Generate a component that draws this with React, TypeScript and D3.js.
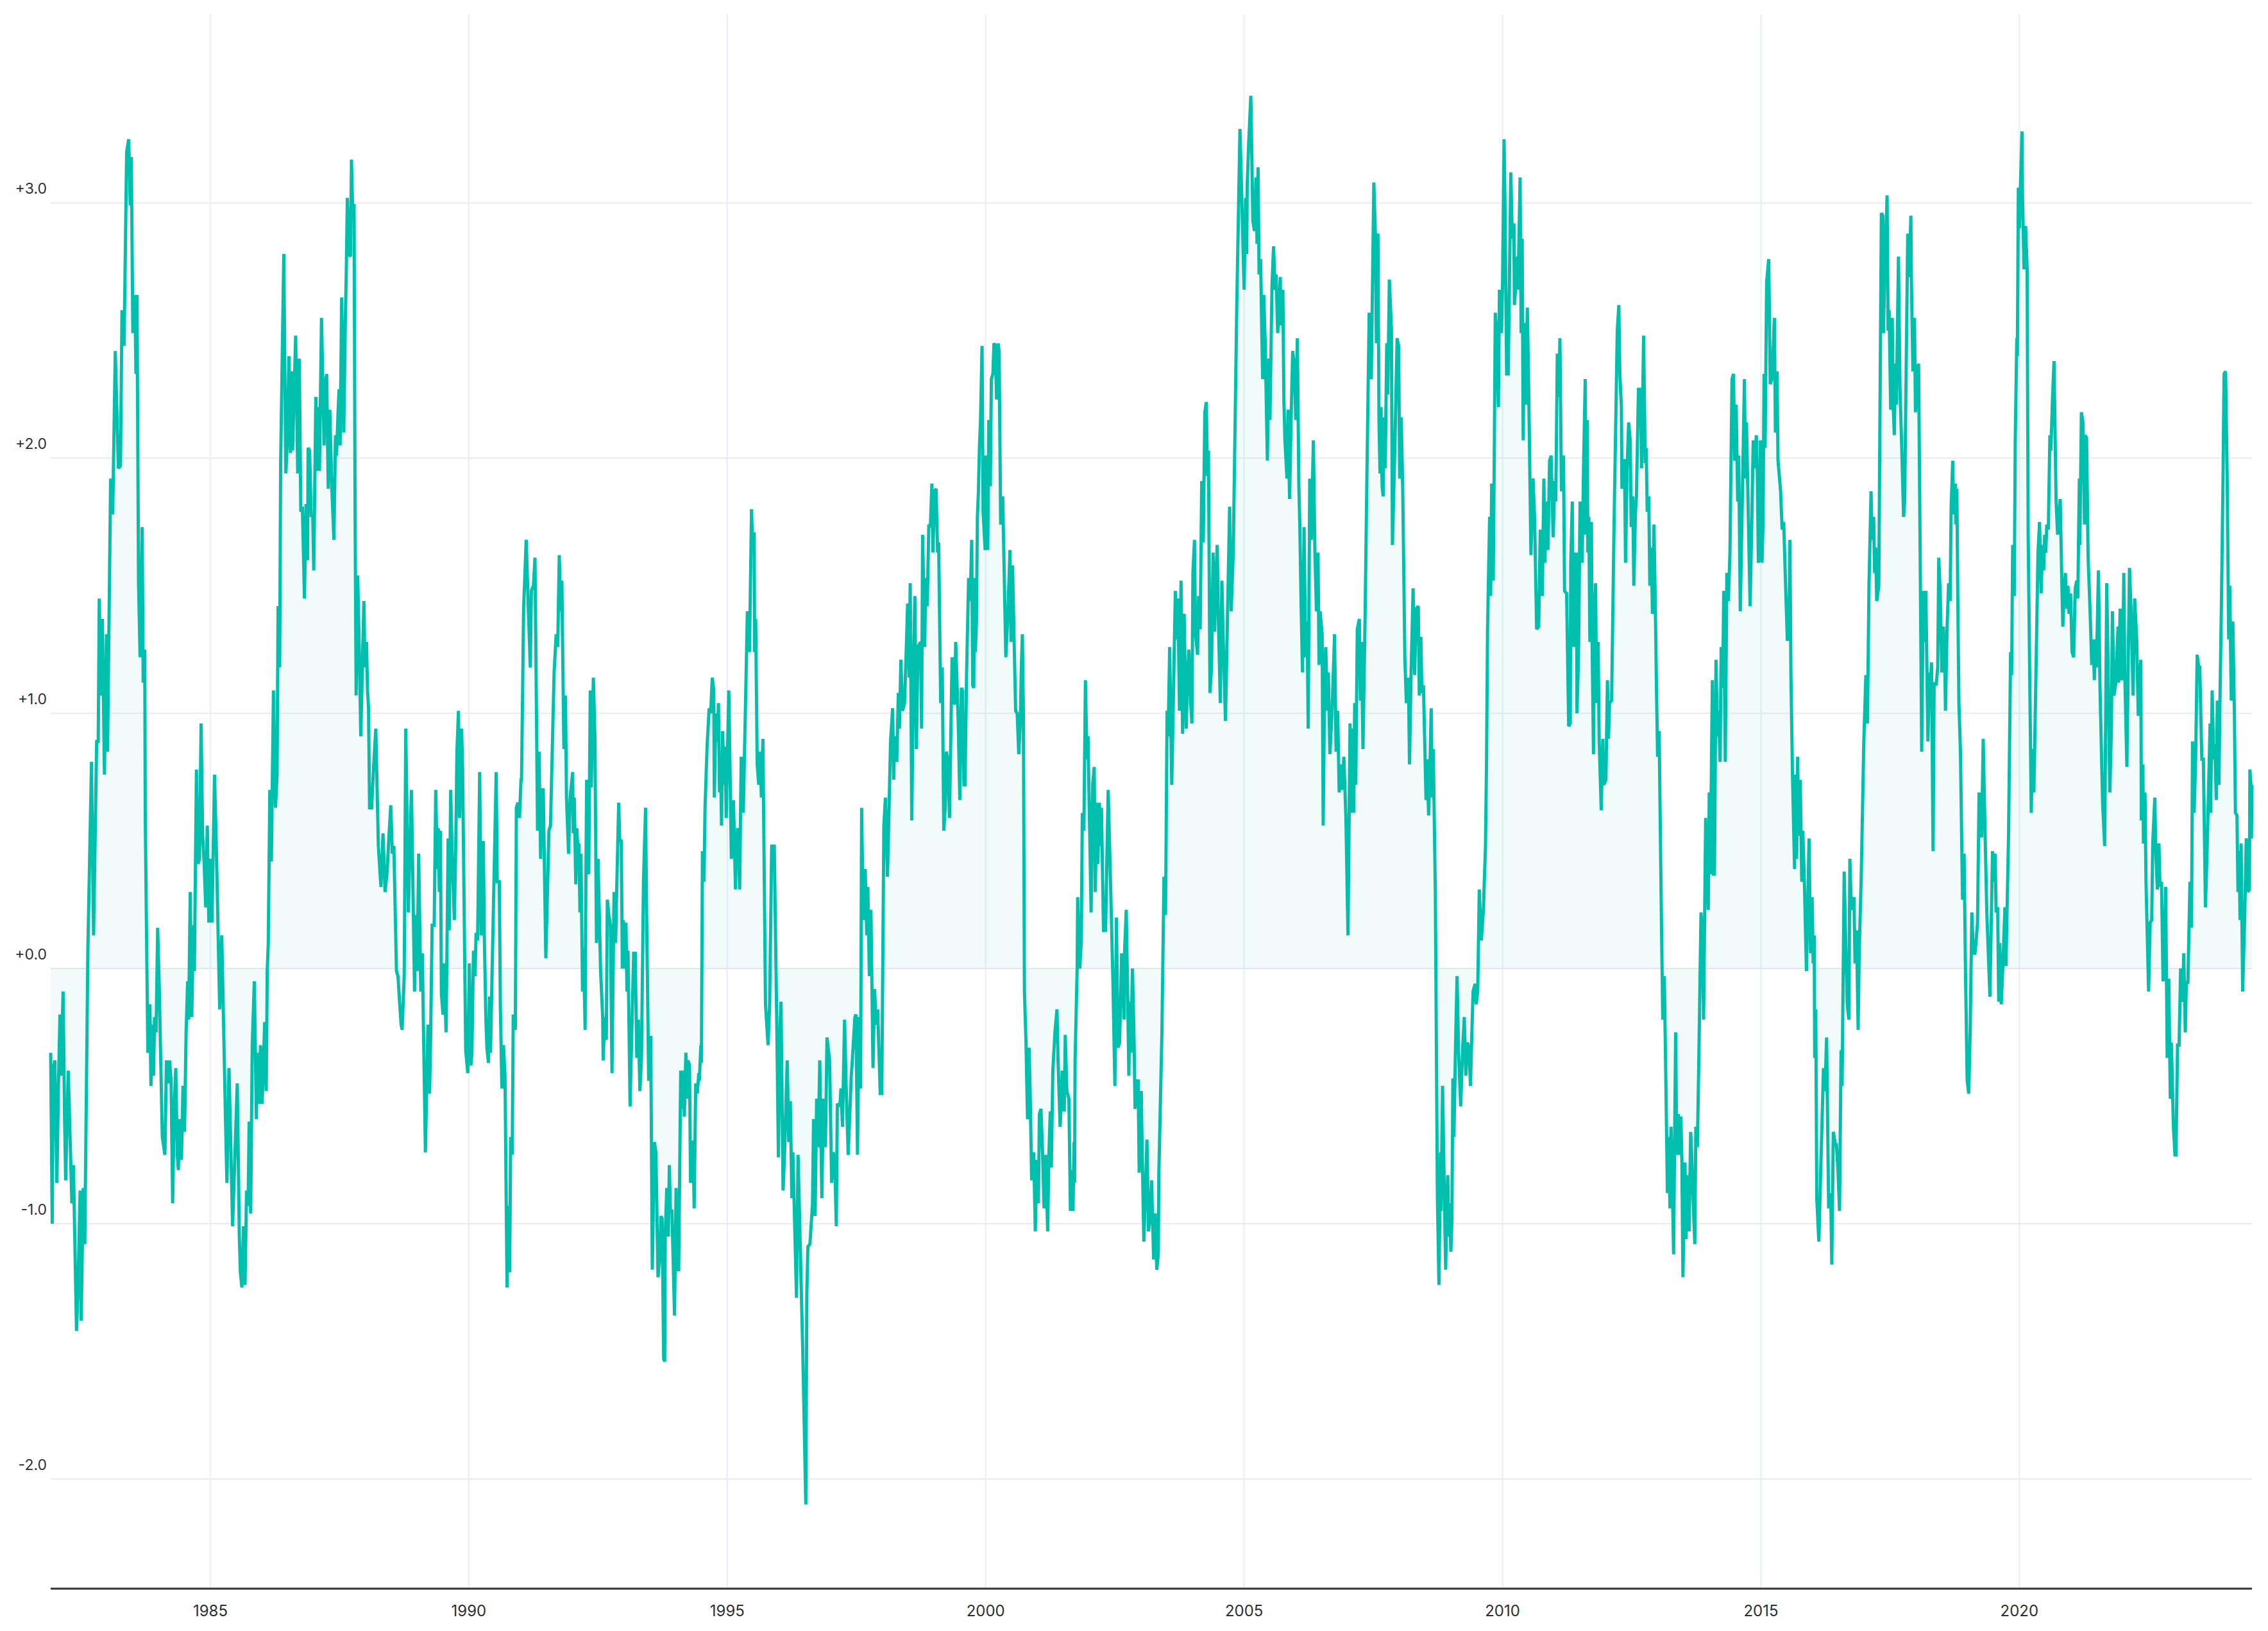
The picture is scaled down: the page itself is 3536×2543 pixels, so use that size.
import { useEffect, useRef } from "react";
import * as d3 from "d3";

type Reading = [number, number]; // [decimal year, index value]

// Readings taken off the chart, one block per stretch of years
const readings1982to1986: Reading[] = [
  [1981.91, -0.33], [1981.94, -1.0], [1981.96, -0.4], [1981.99, -0.36], [1982.03, -0.84], [1982.06, -0.46],
  [1982.09, -0.18], [1982.11, -0.42], [1982.15, -0.09], [1982.18, -0.6], [1982.2, -0.83], [1982.25, -0.4],
  [1982.32, -0.92], [1982.35, -0.77], [1982.41, -1.42], [1982.44, -1.25], [1982.48, -0.87], [1982.5, -1.38],
  [1982.54, -0.86], [1982.57, -1.08], [1982.63, 0.08], [1982.7, 0.81], [1982.74, 0.13], [1982.8, 0.89],
  [1982.83, 0.89], [1982.85, 1.45], [1982.88, 1.07], [1982.91, 1.37], [1982.95, 0.76], [1982.99, 1.31],
  [1983.01, 0.85], [1983.07, 1.92], [1983.11, 1.78], [1983.16, 2.42], [1983.22, 1.96], [1983.26, 1.97],
  [1983.29, 2.58], [1983.33, 2.44], [1983.38, 3.2], [1983.42, 3.25], [1983.45, 2.99], [1983.47, 3.18],
  [1983.5, 2.49], [1983.54, 2.64], [1983.56, 2.33], [1983.58, 2.64], [1983.61, 1.51], [1983.64, 1.22],
  [1983.68, 1.73], [1983.7, 1.12], [1983.73, 1.25], [1983.74, 0.59], [1983.79, -0.33], [1983.83, -0.14],
  [1983.85, -0.46], [1983.88, -0.22], [1983.9, -0.42], [1983.92, -0.19], [1983.95, -0.25], [1983.98, 0.16],
  [1984.01, -0.07], [1984.07, -0.66], [1984.12, -0.73], [1984.15, -0.36], [1984.18, -0.45], [1984.21, -0.36],
  [1984.24, -0.44], [1984.27, -0.92], [1984.3, -0.55], [1984.33, -0.39], [1984.36, -0.73], [1984.38, -0.79],
  [1984.41, -0.59], [1984.44, -0.75], [1984.47, -0.46], [1984.5, -0.64], [1984.53, -0.25], [1984.56, -0.05],
  [1984.58, -0.2], [1984.61, 0.3], [1984.64, -0.19], [1984.67, 0.17], [1984.69, -0.01], [1984.73, 0.78],
  [1984.76, 0.41], [1984.79, 0.43], [1984.82, 0.96], [1984.85, 0.52], [1984.88, 0.41], [1984.91, 0.24],
  [1984.94, 0.56], [1984.97, 0.18], [1985.01, 0.43], [1985.03, 0.18], [1985.08, 0.76], [1985.11, 0.52],
  [1985.13, 0.33], [1985.18, -0.16], [1985.22, 0.13], [1985.29, -0.57], [1985.32, -0.84], [1985.36, -0.39],
  [1985.43, -1.01], [1985.52, -0.45], [1985.56, -1.05], [1985.58, -1.19], [1985.61, -1.25], [1985.64, -1.01],
  [1985.67, -1.24], [1985.7, -0.87], [1985.73, -0.93], [1985.75, -0.6], [1985.78, -0.96], [1985.81, -0.3],
  [1985.85, -0.05], [1985.89, -0.59], [1985.91, -0.33], [1985.94, -0.53], [1985.97, -0.3], [1986.0, -0.53],
  [1986.02, -0.42], [1986.05, -0.21], [1986.08, -0.48], [1986.1, -0.01], [1986.12, 0.1],
];

const readings1986to1990: Reading[] = [
  [1986.15, 0.7], [1986.18, 0.42], [1986.22, 1.09], [1986.26, 0.63], [1986.29, 0.76], [1986.31, 1.42],
  [1986.34, 1.18], [1986.36, 1.99], [1986.42, 2.8], [1986.46, 1.94], [1986.49, 2.07], [1986.52, 2.4],
  [1986.55, 2.02], [1986.57, 2.34], [1986.59, 2.03], [1986.65, 2.48], [1986.69, 1.94], [1986.72, 2.39],
  [1986.75, 1.79], [1986.78, 1.81], [1986.82, 1.45], [1986.85, 1.82], [1986.88, 1.6], [1986.89, 2.04],
  [1986.92, 2.03], [1986.95, 1.77], [1986.98, 1.78], [1987.0, 1.56], [1987.04, 2.24], [1987.07, 1.95],
  [1987.09, 2.2], [1987.11, 1.95], [1987.15, 2.55], [1987.2, 2.05], [1987.22, 2.29], [1987.25, 2.33],
  [1987.28, 1.88], [1987.31, 2.19], [1987.35, 1.88], [1987.39, 1.68], [1987.42, 2.09], [1987.44, 2.01],
  [1987.47, 2.18], [1987.49, 2.27], [1987.51, 2.05], [1987.54, 2.63], [1987.58, 2.1], [1987.61, 2.53],
  [1987.63, 2.74], [1987.65, 3.02], [1987.68, 2.8], [1987.71, 2.79], [1987.73, 3.17], [1987.75, 2.99],
  [1987.78, 2.99], [1987.8, 1.77], [1987.82, 1.07], [1987.85, 1.54], [1987.88, 1.26], [1987.91, 0.91],
  [1987.94, 1.18], [1987.97, 1.44], [1987.99, 1.18], [1988.02, 1.28], [1988.04, 1.09], [1988.06, 1.02],
  [1988.08, 0.63], [1988.12, 0.63], [1988.15, 0.76], [1988.2, 0.94], [1988.25, 0.48], [1988.3, 0.32],
  [1988.34, 0.53], [1988.38, 0.3], [1988.42, 0.38], [1988.45, 0.5], [1988.49, 0.64], [1988.52, 0.45],
  [1988.55, 0.48], [1988.6, -0.01], [1988.63, -0.03], [1988.66, -0.13], [1988.69, -0.22], [1988.71, -0.24],
  [1988.75, -0.03], [1988.78, 0.94], [1988.83, 0.22], [1988.85, 0.39], [1988.89, 0.7], [1988.95, -0.09],
  [1988.97, 0.21], [1989.0, -0.01], [1989.03, 0.45], [1989.07, -0.09], [1989.1, 0.06], [1989.16, -0.72],
  [1989.21, -0.22], [1989.24, -0.49], [1989.26, -0.29], [1989.29, 0.17], [1989.33, 0.17], [1989.36, 0.7],
  [1989.39, 0.39], [1989.41, 0.55], [1989.43, 0.3], [1989.45, 0.54], [1989.47, -0.1], [1989.5, -0.18],
  [1989.52, 0.02], [1989.56, -0.25], [1989.6, 0.51], [1989.62, 0.15], [1989.65, 0.7], [1989.68, 0.43],
  [1989.72, 0.19], [1989.75, 0.52], [1989.77, 0.85], [1989.8, 1.01], [1989.82, 0.59], [1989.86, 0.94],
  [1989.88, 0.78], [1989.94, -0.32], [1989.98, -0.41], [1990.01, 0.02], [1990.04, -0.38], [1990.06, -0.33],
  [1990.09, 0.07], [1990.12, -0.03], [1990.14, 0.14], [1990.17, 0.11], [1990.21, 0.77], [1990.24, 0.13],
  [1990.28, 0.5], [1990.3, 0.13], [1990.33, -0.2], [1990.35, -0.31],
];

const readings1990to1994: Reading[] = [
  [1990.38, -0.37], [1990.4, -0.11], [1990.42, -0.33], [1990.46, 0.08], [1990.53, 0.77], [1990.55, 0.34],
  [1990.59, 0.34], [1990.61, -0.14], [1990.64, -0.47], [1990.67, -0.3], [1990.7, -0.42], [1990.74, -1.25],
  [1990.77, -0.93], [1990.79, -1.19], [1990.81, -0.66], [1990.84, -0.73], [1990.86, -0.18], [1990.9, -0.24],
  [1990.92, 0.63], [1990.95, 0.65], [1990.98, 0.59], [1991.01, 0.74], [1991.02, 0.74], [1991.06, 1.41],
  [1991.11, 1.68], [1991.15, 1.42], [1991.19, 1.18], [1991.21, 1.48], [1991.25, 1.5], [1991.28, 1.61],
  [1991.31, 0.98], [1991.33, 0.54], [1991.36, 0.85], [1991.39, 0.43], [1991.41, 0.7], [1991.44, 0.7],
  [1991.49, 0.04], [1991.55, 0.54], [1991.58, 0.56], [1991.65, 1.16], [1991.69, 1.31], [1991.72, 1.26],
  [1991.75, 1.62], [1991.78, 1.4], [1991.8, 1.52], [1991.84, 0.86], [1991.87, 1.07], [1991.89, 0.67],
  [1991.93, 0.45], [1991.96, 0.67], [1992.01, 0.77], [1992.02, 0.53], [1992.04, 0.67], [1992.07, 0.33],
  [1992.09, 0.55], [1992.12, 0.43], [1992.13, 0.49], [1992.15, 0.22], [1992.17, 0.45], [1992.2, -0.09],
  [1992.22, 0.08], [1992.25, -0.24], [1992.26, 0.21], [1992.28, 0.74], [1992.32, 0.37], [1992.35, 1.09],
  [1992.37, 0.71], [1992.41, 1.14], [1992.44, 0.9], [1992.47, 0.1], [1992.5, 0.43], [1992.55, -0.01],
  [1992.59, -0.19], [1992.6, -0.36], [1992.63, -0.19], [1992.66, -0.28], [1992.68, 0.27], [1992.71, 0.21],
  [1992.74, 0.17], [1992.77, -0.41], [1992.81, 0.3], [1992.84, 0.1], [1992.86, 0.3], [1992.9, 0.65],
  [1992.92, 0.5], [1992.95, 0.5], [1992.97, 0.0], [1992.99, 0.19], [1993.02, 0.0], [1993.04, 0.18],
  [1993.06, -0.09], [1993.08, 0.07], [1993.12, -0.54], [1993.15, -0.28], [1993.19, 0.06], [1993.22, 0.06],
  [1993.25, -0.35], [1993.28, -0.2], [1993.31, -0.48], [1993.34, -0.36], [1993.38, 0.35], [1993.42, 0.63],
  [1993.44, 0.21], [1993.48, -0.44], [1993.5, -0.27], [1993.52, -0.27], [1993.55, -1.18], [1993.59, -0.68],
  [1993.62, -0.72], [1993.66, -1.21], [1993.69, -1.14], [1993.72, -0.97], [1993.74, -0.98], [1993.77, -1.53],
  [1993.79, -1.54], [1993.8, -1.05], [1993.83, -0.86], [1993.86, -1.05], [1993.88, -0.77], [1993.9, -0.95],
  [1993.93, -0.95], [1993.98, -1.36], [1994.01, -0.86], [1994.04, -1.18], [1994.06, -1.18], [1994.1, -0.4],
  [1994.12, -0.55], [1994.15, -0.4], [1994.17, -0.58], [1994.2, -0.33], [1994.22, -0.51], [1994.24, -0.36],
  [1994.27, -0.38], [1994.29, -0.84], [1994.32, -0.68], [1994.34, -0.68], [1994.36, -0.94], [1994.39, -0.45],
  [1994.42, -0.49], [1994.45, -0.41], [1994.46, -0.44], [1994.49, -0.3], [1994.5, -0.37], [1994.52, 0.46],
  [1994.55, 0.34], [1994.57, 0.63],
];

const readings1994to1998: Reading[] = [
  [1994.61, 0.87], [1994.65, 1.02], [1994.68, 1.0], [1994.71, 1.14], [1994.74, 1.09], [1994.75, 0.67],
  [1994.78, 1.0], [1994.81, 0.89], [1994.83, 1.04], [1994.85, 0.69], [1994.87, 0.81], [1994.89, 0.56],
  [1994.91, 0.93], [1994.94, 0.72], [1994.96, 0.87], [1994.98, 0.59], [1995.0, 0.8], [1995.03, 1.09],
  [1995.08, 0.43], [1995.12, 0.66], [1995.16, 0.31], [1995.18, 0.53], [1995.21, 0.55], [1995.24, 0.31],
  [1995.27, 0.83], [1995.31, 0.61], [1995.39, 1.4], [1995.43, 1.24], [1995.47, 1.8], [1995.49, 1.66],
  [1995.52, 1.71], [1995.53, 1.24], [1995.55, 1.37], [1995.58, 0.8], [1995.61, 0.72], [1995.64, 0.85],
  [1995.66, 0.67], [1995.69, 0.9], [1995.74, -0.14], [1995.79, -0.3], [1995.82, -0.14], [1995.86, 0.48],
  [1995.91, 0.48], [1995.96, -0.24], [1995.99, -0.74], [1996.02, -0.24], [1996.04, -0.13], [1996.08, -0.87],
  [1996.11, -0.72], [1996.16, -0.36], [1996.19, -0.68], [1996.22, -0.52], [1996.25, -0.9], [1996.27, -0.72],
  [1996.34, -1.29], [1996.37, -0.73], [1996.46, -1.49], [1996.52, -2.1], [1996.54, -1.27], [1996.56, -1.09],
  [1996.6, -1.08], [1996.65, -0.92], [1996.67, -0.59], [1996.7, -0.97], [1996.73, -0.51], [1996.76, -0.7],
  [1996.79, -0.36], [1996.83, -0.9], [1996.86, -0.51], [1996.9, -0.7], [1996.93, -0.27], [1996.98, -0.36],
  [1997.02, -0.84], [1997.05, -0.72], [1997.08, -0.75], [1997.11, -1.01], [1997.13, -0.53], [1997.18, -0.54],
  [1997.2, -0.47], [1997.23, -0.62], [1997.27, -0.2], [1997.3, -0.46], [1997.34, -0.73], [1997.4, -0.42],
  [1997.42, -0.36], [1997.47, -0.19], [1997.49, -0.18], [1997.52, -0.73], [1997.55, -0.19], [1997.58, -0.47],
  [1997.6, 0.63], [1997.63, 0.19], [1997.67, 0.39], [1997.7, 0.13], [1997.72, 0.32], [1997.75, -0.03],
  [1997.78, 0.23], [1997.82, -0.39], [1997.85, -0.08], [1997.88, -0.22], [1997.91, -0.16], [1997.96, -0.49],
  [1997.99, -0.49], [1998.03, 0.56], [1998.06, 0.67], [1998.1, 0.36], [1998.16, 0.89], [1998.2, 1.02],
  [1998.22, 0.74], [1998.24, 0.91], [1998.28, 0.81], [1998.31, 1.08], [1998.33, 0.94], [1998.36, 1.21],
  [1998.39, 1.01], [1998.43, 1.04], [1998.47, 1.29], [1998.49, 1.43], [1998.52, 1.14], [1998.54, 1.51],
  [1998.57, 0.58], [1998.61, 1.26], [1998.63, 1.46], [1998.66, 0.86], [1998.69, 1.26], [1998.74, 1.28],
  [1998.76, 0.94], [1998.78, 1.7],
];

const readings1998to2003: Reading[] = [
  [1998.82, 1.26], [1998.84, 1.53], [1998.87, 1.42], [1998.9, 1.74], [1998.93, 1.73], [1998.96, 1.9],
  [1998.98, 1.63], [1999.01, 1.87], [1999.04, 1.88], [1999.07, 1.63], [1999.09, 1.67], [1999.13, 1.04],
  [1999.16, 1.18], [1999.19, 0.54], [1999.22, 0.64], [1999.24, 0.85], [1999.27, 0.81], [1999.3, 0.59],
  [1999.35, 1.22], [1999.38, 1.04], [1999.4, 1.04], [1999.42, 1.28], [1999.47, 0.96], [1999.5, 0.66],
  [1999.53, 1.1], [1999.55, 1.09], [1999.58, 0.72], [1999.6, 0.72], [1999.63, 1.15], [1999.67, 1.53],
  [1999.7, 1.44], [1999.73, 1.68], [1999.75, 1.11], [1999.77, 1.1], [1999.78, 1.53], [1999.8, 1.24],
  [1999.82, 1.35], [1999.84, 1.77], [1999.86, 1.87], [1999.88, 2.05], [1999.9, 2.14], [1999.93, 2.44],
  [1999.95, 1.79], [1999.99, 1.64], [2000.0, 2.01], [2000.04, 1.64], [2000.06, 2.15], [2000.09, 1.89],
  [2000.11, 2.31], [2000.14, 2.33], [2000.16, 2.45], [2000.19, 2.44], [2000.21, 2.23], [2000.24, 2.45],
  [2000.26, 2.42], [2000.29, 1.74], [2000.33, 1.85], [2000.39, 1.22], [2000.43, 1.39], [2000.47, 1.64],
  [2000.49, 1.28], [2000.52, 1.58], [2000.55, 1.29], [2000.58, 1.01], [2000.61, 1.0], [2000.64, 0.84],
  [2000.67, 0.96], [2000.69, 1.18], [2000.71, 1.31], [2000.73, 1.0], [2000.75, -0.09], [2000.78, -0.29],
  [2000.81, -0.59], [2000.84, -0.31], [2000.86, -0.48], [2000.89, -0.83], [2000.93, -0.72], [2000.96, -1.03],
  [2000.99, -0.75], [2001.02, -0.92], [2001.04, -0.57], [2001.07, -0.55], [2001.1, -0.72], [2001.13, -0.94],
  [2001.16, -0.73], [2001.2, -1.03], [2001.22, -0.75], [2001.25, -0.56], [2001.27, -0.78], [2001.3, -0.4],
  [2001.34, -0.25], [2001.38, -0.16], [2001.4, -0.36], [2001.44, -0.62], [2001.46, -0.54], [2001.48, -0.4],
  [2001.52, -0.56], [2001.54, -0.26], [2001.57, -0.48], [2001.61, -0.51], [2001.64, -0.95], [2001.67, -0.79],
  [2001.69, -0.95], [2001.71, -0.68], [2001.72, -0.84], [2001.73, -0.36], [2001.77, 0.0], [2001.78, 0.28],
  [2001.82, 0.0], [2001.85, 0.11], [2001.87, 0.61], [2001.9, 0.54], [2001.93, 1.13], [2001.96, 0.82],
  [2001.98, 0.91], [2002.04, 0.22], [2002.07, 0.72], [2002.1, 0.79], [2002.12, 0.3], [2002.15, 0.65],
  [2002.17, 0.41], [2002.2, 0.65], [2002.22, 0.48], [2002.24, 0.63], [2002.28, 0.15], [2002.32, 0.15],
  [2002.37, 0.7], [2002.42, 0.3], [2002.46, -0.03], [2002.5, -0.46], [2002.53, 0.2], [2002.56, -0.31],
  [2002.59, -0.29], [2002.61, -0.13], [2002.63, 0.06], [2002.68, -0.2], [2002.69, 0.08], [2002.72, 0.23],
  [2002.75, -0.14], [2002.77, -0.42], [2002.79, -0.13], [2002.81, -0.33], [2002.84, 0.0], [2002.87, -0.27],
  [2002.89, -0.55], [2002.92, -0.44], [2002.95, -0.44], [2002.97, -0.8], [2003.01, -0.48],
];

const readings2003to2007: Reading[] = [
  [2003.02, -0.62], [2003.06, -1.07], [2003.09, -0.88], [2003.12, -0.67], [2003.15, -1.03], [2003.18, -0.98],
  [2003.21, -0.83], [2003.23, -0.99], [2003.25, -1.14], [2003.28, -0.96], [2003.31, -1.18], [2003.34, -1.12],
  [2003.35, -0.81], [2003.41, -0.25], [2003.45, 0.36], [2003.48, 0.21], [2003.51, 1.01], [2003.53, 0.91],
  [2003.56, 1.26], [2003.6, 0.72], [2003.67, 1.48], [2003.7, 1.29], [2003.72, 1.45], [2003.75, 1.01],
  [2003.78, 1.52], [2003.81, 0.92], [2003.84, 1.39], [2003.88, 0.94], [2003.9, 1.1], [2003.93, 1.25],
  [2003.96, 1.07], [2003.99, 0.96], [2004.01, 1.55], [2004.04, 1.68], [2004.06, 1.31], [2004.1, 1.23],
  [2004.12, 1.46], [2004.15, 1.33], [2004.18, 1.91], [2004.21, 1.67], [2004.24, 2.18], [2004.27, 2.22],
  [2004.29, 1.93], [2004.31, 2.03], [2004.34, 1.08], [2004.37, 1.18], [2004.4, 1.63], [2004.43, 1.32],
  [2004.45, 1.51], [2004.48, 1.66], [2004.5, 1.39], [2004.54, 1.04], [2004.57, 1.52], [2004.6, 1.26],
  [2004.64, 0.97], [2004.68, 1.4], [2004.72, 1.81], [2004.75, 1.4], [2004.79, 1.63], [2004.86, 2.62],
  [2004.92, 3.29], [2004.95, 3.06], [2005.0, 2.66], [2005.03, 3.02], [2005.05, 2.8], [2005.06, 3.07],
  [2005.09, 3.24], [2005.13, 3.42], [2005.17, 2.93], [2005.2, 2.89], [2005.23, 3.1], [2005.25, 2.84],
  [2005.27, 3.14], [2005.29, 2.72], [2005.32, 2.78], [2005.34, 2.52], [2005.36, 2.31], [2005.38, 2.64],
  [2005.41, 2.44], [2005.45, 1.99], [2005.48, 2.39], [2005.5, 2.15], [2005.54, 2.68], [2005.57, 2.83],
  [2005.6, 2.66], [2005.62, 2.72], [2005.65, 2.49], [2005.7, 2.71], [2005.71, 2.52], [2005.75, 2.66],
  [2005.77, 2.23], [2005.79, 2.07], [2005.83, 1.92], [2005.85, 2.19], [2005.88, 1.84], [2005.91, 2.16],
  [2005.94, 2.42], [2005.97, 2.37], [2006.0, 2.15], [2006.03, 2.47], [2006.06, 1.89], [2006.08, 1.72],
  [2006.1, 1.46], [2006.13, 1.16], [2006.16, 1.73], [2006.19, 1.22], [2006.22, 1.36], [2006.24, 0.94],
  [2006.27, 1.92], [2006.3, 1.68], [2006.34, 2.07], [2006.37, 1.63], [2006.4, 1.4], [2006.43, 1.63],
  [2006.45, 1.19], [2006.47, 1.4], [2006.51, 1.31], [2006.53, 0.56], [2006.56, 1.18], [2006.58, 1.26],
  [2006.61, 1.01], [2006.63, 1.16], [2006.66, 0.84], [2006.7, 1.0], [2006.75, 1.31], [2006.78, 0.85],
  [2006.81, 1.01], [2006.84, 0.69], [2006.87, 0.8], [2006.9, 0.7], [2006.93, 0.83], [2006.97, 0.59],
  [2007.01, 0.13], [2007.05, 0.96], [2007.07, 0.61], [2007.09, 0.94], [2007.12, 0.61], [2007.14, 1.04],
  [2007.16, 0.72], [2007.19, 1.33], [2007.23, 1.37],
];

const readings2007to2011: Reading[] = [
  [2007.25, 1.05], [2007.27, 1.28], [2007.3, 0.86], [2007.34, 1.37], [2007.38, 1.99], [2007.42, 2.57],
  [2007.46, 2.31], [2007.51, 3.08], [2007.54, 2.88], [2007.56, 2.45], [2007.59, 2.88], [2007.61, 2.14],
  [2007.63, 1.94], [2007.65, 2.2], [2007.67, 1.89], [2007.69, 1.85], [2007.71, 2.16], [2007.73, 1.96],
  [2007.76, 2.45], [2007.78, 2.25], [2007.81, 2.7], [2007.85, 2.51], [2007.87, 1.66], [2007.92, 2.07],
  [2007.96, 2.47], [2007.99, 2.44], [2008.01, 1.92], [2008.04, 2.16], [2008.07, 1.87], [2008.11, 1.22],
  [2008.14, 1.04], [2008.18, 1.14], [2008.2, 0.8], [2008.23, 1.15], [2008.27, 1.49], [2008.3, 1.15],
  [2008.33, 1.41], [2008.37, 1.42], [2008.39, 1.07], [2008.42, 1.3], [2008.44, 1.08], [2008.47, 1.11],
  [2008.52, 0.66], [2008.54, 0.82], [2008.57, 0.6], [2008.59, 0.74], [2008.62, 1.02], [2008.64, 0.67],
  [2008.66, 0.86], [2008.7, 0.3], [2008.74, -0.9], [2008.77, -1.24], [2008.8, -0.72], [2008.81, -0.95],
  [2008.84, -0.46], [2008.87, -0.83], [2008.9, -1.18], [2008.92, -0.94], [2008.94, -0.81], [2008.96, -1.05],
  [2008.98, -0.92], [2009.0, -1.11], [2009.02, -0.99], [2009.04, -0.43], [2009.06, -0.66], [2009.09, -0.31],
  [2009.12, -0.03], [2009.15, -0.33], [2009.19, -0.54], [2009.23, -0.31], [2009.26, -0.19], [2009.29, -0.42],
  [2009.32, -0.29], [2009.35, -0.31], [2009.38, -0.46], [2009.4, -0.3], [2009.43, -0.09], [2009.47, -0.06],
  [2009.49, -0.14], [2009.52, -0.09], [2009.55, 0.31], [2009.59, 0.11], [2009.63, 0.23], [2009.67, 0.48],
  [2009.69, 0.8], [2009.71, 1.33], [2009.75, 1.77], [2009.77, 1.46], [2009.79, 1.9], [2009.82, 1.52],
  [2009.84, 2.01], [2009.86, 2.57], [2009.89, 2.47], [2009.92, 2.2], [2009.94, 2.66], [2009.98, 2.49],
  [2010.0, 2.68], [2010.03, 3.25], [2010.05, 2.95], [2010.08, 2.33], [2010.11, 2.33], [2010.16, 3.12],
  [2010.19, 2.86], [2010.22, 2.92], [2010.23, 2.6], [2010.26, 2.69], [2010.29, 2.79], [2010.3, 2.66],
  [2010.34, 3.1], [2010.36, 2.49], [2010.38, 2.86], [2010.4, 2.07], [2010.42, 2.53], [2010.45, 2.21],
  [2010.48, 2.59], [2010.51, 2.22], [2010.55, 1.62], [2010.59, 1.92], [2010.62, 1.77], [2010.66, 1.33],
  [2010.7, 1.34], [2010.73, 1.72], [2010.77, 1.46], [2010.8, 1.92], [2010.82, 1.59], [2010.85, 1.83],
  [2010.88, 1.64], [2010.91, 1.99], [2010.94, 2.01], [2010.98, 1.69], [2011.01, 1.91], [2011.03, 1.83],
  [2011.06, 2.41], [2011.09, 2.24], [2011.11, 2.47], [2011.14, 1.87], [2011.18, 2.01], [2011.2, 1.48],
  [2011.24, 1.47], [2011.28, 0.95], [2011.31, 0.96], [2011.32, 1.59], [2011.35, 1.83], [2011.37, 1.26],
  [2011.39, 1.63], [2011.41, 1.26], [2011.43, 1.63], [2011.44, 1.0],
];

const readings2011to2015: Reading[] = [
  [2011.47, 1.22], [2011.5, 1.83], [2011.54, 1.59], [2011.57, 1.99], [2011.6, 2.31], [2011.61, 1.7],
  [2011.64, 2.15], [2011.65, 1.63], [2011.67, 1.77], [2011.69, 1.28], [2011.72, 1.75], [2011.73, 1.33],
  [2011.76, 0.84], [2011.78, 1.42], [2011.8, 1.51], [2011.82, 1.04], [2011.85, 1.28], [2011.87, 0.89],
  [2011.91, 0.62], [2011.94, 0.9], [2011.96, 0.72], [2012.0, 0.74], [2012.03, 1.13], [2012.05, 0.9],
  [2012.07, 1.04], [2012.11, 1.05], [2012.16, 1.77], [2012.22, 2.5], [2012.25, 2.6], [2012.27, 2.33],
  [2012.3, 2.2], [2012.31, 1.88], [2012.34, 1.99], [2012.36, 1.99], [2012.38, 1.59], [2012.41, 1.96],
  [2012.44, 2.14], [2012.47, 2.07], [2012.49, 1.73], [2012.52, 1.85], [2012.54, 1.5], [2012.57, 1.78],
  [2012.59, 1.85], [2012.63, 2.27], [2012.67, 2.27], [2012.69, 1.96], [2012.73, 2.48], [2012.76, 1.98],
  [2012.78, 2.04], [2012.8, 1.79], [2012.83, 1.85], [2012.85, 1.5], [2012.88, 1.65], [2012.9, 1.39],
  [2012.93, 1.74], [2012.96, 1.37], [2012.98, 1.08], [2013.0, 0.83], [2013.03, 0.93], [2013.07, 0.26],
  [2013.1, -0.2], [2013.13, -0.03], [2013.16, -0.44], [2013.19, -0.88], [2013.21, -0.66], [2013.24, -0.94],
  [2013.26, -0.62], [2013.28, -0.79], [2013.31, -1.12], [2013.33, -0.66], [2013.35, -0.25], [2013.37, -0.73],
  [2013.4, -0.57], [2013.42, -0.73], [2013.45, -0.58], [2013.47, -0.75], [2013.49, -1.21], [2013.53, -0.76],
  [2013.55, -1.06], [2013.58, -0.81], [2013.61, -1.03], [2013.64, -0.64], [2013.66, -0.73], [2013.69, -0.92],
  [2013.72, -1.08], [2013.74, -0.62], [2013.77, -0.7], [2013.8, -0.33], [2013.84, 0.22], [2013.87, 0.1],
  [2013.89, -0.2], [2013.93, 0.59], [2013.95, 0.43], [2013.98, 0.23], [2014.0, 0.69], [2014.02, 0.37],
  [2014.06, 1.13], [2014.08, 0.37], [2014.1, 0.37], [2014.13, 1.21], [2014.16, 0.91], [2014.18, 1.01],
  [2014.21, 0.81], [2014.23, 1.26], [2014.26, 1.1], [2014.28, 1.48], [2014.3, 1.0], [2014.31, 0.81],
  [2014.34, 1.55], [2014.37, 1.44], [2014.4, 1.63], [2014.44, 2.31], [2014.47, 2.33], [2014.49, 1.99],
  [2014.52, 2.21], [2014.55, 1.83], [2014.57, 2.01], [2014.6, 1.4], [2014.64, 1.85], [2014.68, 2.31],
  [2014.7, 1.92], [2014.72, 2.14], [2014.75, 1.83], [2014.79, 1.42], [2014.82, 1.72], [2014.85, 2.07],
  [2014.88, 1.96], [2014.91, 2.09], [2014.93, 1.94], [2014.95, 1.59], [2014.98, 1.63], [2014.99, 2.07],
  [2015.02, 1.59], [2015.04, 1.75], [2015.06, 2.33], [2015.08, 2.04], [2015.11, 2.69], [2015.15, 2.78],
  [2015.18, 2.29], [2015.21, 2.31], [2015.24, 2.44], [2015.26, 2.55], [2015.28, 2.1], [2015.31, 2.34],
  [2015.33, 1.99], [2015.36, 1.92], [2015.38, 1.87], [2015.41, 1.72], [2015.44, 1.75], [2015.48, 1.48],
  [2015.51, 1.29], [2015.54, 1.29], [2015.56, 1.68], [2015.58, 1.15], [2015.61, 0.76], [2015.65, 0.39],
  [2015.66, 0.76],
];

const readings2015to2019: Reading[] = [
  [2015.69, 0.43], [2015.71, 0.83], [2015.73, 0.52], [2015.76, 0.74], [2015.79, 0.34], [2015.81, 0.54],
  [2015.84, 0.34], [2015.88, -0.01], [2015.93, 0.51], [2015.96, 0.06], [2015.99, 0.28], [2016.01, 0.02],
  [2016.03, 0.13], [2016.04, -0.35], [2016.06, -0.16], [2016.08, -0.9], [2016.12, -1.07], [2016.15, -0.84],
  [2016.21, -0.39], [2016.24, -0.48], [2016.27, -0.27], [2016.31, -0.94], [2016.35, -0.88], [2016.37, -1.16],
  [2016.4, -0.64], [2016.44, -0.69], [2016.46, -0.69], [2016.49, -0.79], [2016.52, -0.95], [2016.55, -0.32],
  [2016.57, -0.46], [2016.61, 0.38], [2016.64, 0.1], [2016.67, -0.14], [2016.7, -0.2], [2016.72, 0.43],
  [2016.75, 0.23], [2016.8, 0.28], [2016.82, 0.02], [2016.85, 0.15], [2016.88, -0.24], [2016.9, 0.06],
  [2016.94, 0.36], [2016.99, 0.89], [2017.03, 1.15], [2017.06, 0.96], [2017.09, 1.5], [2017.13, 1.87],
  [2017.15, 1.68], [2017.18, 1.77], [2017.2, 1.55], [2017.22, 1.65], [2017.24, 1.44], [2017.28, 1.5],
  [2017.3, 2.1], [2017.33, 2.96], [2017.36, 2.95], [2017.37, 2.49], [2017.4, 2.77], [2017.42, 2.88],
  [2017.44, 3.03], [2017.46, 2.5], [2017.48, 2.58], [2017.51, 2.19], [2017.54, 2.55], [2017.56, 2.2],
  [2017.58, 2.09], [2017.6, 2.37], [2017.62, 2.21], [2017.64, 2.49], [2017.66, 2.79], [2017.69, 2.27],
  [2017.72, 2.07], [2017.76, 1.77], [2017.78, 1.83], [2017.81, 2.36], [2017.84, 2.88], [2017.87, 2.71],
  [2017.9, 2.95], [2017.91, 2.71], [2017.94, 2.34], [2017.97, 2.55], [2017.99, 2.18], [2018.02, 2.34],
  [2018.05, 2.37], [2018.08, 1.63], [2018.11, 0.85], [2018.14, 1.48], [2018.17, 1.28], [2018.19, 1.48],
  [2018.23, 0.89], [2018.26, 1.16], [2018.28, 1.11], [2018.3, 1.2], [2018.33, 0.46], [2018.35, 1.12],
  [2018.39, 1.11], [2018.42, 1.18], [2018.44, 1.61], [2018.47, 1.46], [2018.5, 1.16], [2018.53, 1.34],
  [2018.56, 1.16], [2018.57, 1.01], [2018.6, 1.33], [2018.63, 1.51], [2018.66, 1.44], [2018.68, 1.81],
  [2018.71, 1.99], [2018.73, 1.78], [2018.76, 1.9], [2018.77, 1.74], [2018.79, 1.88], [2018.81, 1.42],
  [2018.83, 1.04], [2018.86, 0.85], [2018.9, 0.27], [2018.93, 0.45], [2018.96, -0.05], [2018.99, -0.44],
  [2019.02, -0.49], [2019.05, -0.22], [2019.08, 0.22], [2019.11, 0.06], [2019.14, 0.06], [2019.16, 0.1],
  [2019.19, 0.18], [2019.22, 0.69], [2019.25, 0.52], [2019.27, 0.52], [2019.3, 0.9], [2019.33, 0.59],
  [2019.37, 0.22], [2019.43, -0.11], [2019.48, 0.46], [2019.5, 0.34], [2019.53, 0.45], [2019.55, 0.22],
  [2019.58, 0.24], [2019.6, -0.13], [2019.62, 0.1], [2019.65, -0.14], [2019.68, 0.01], [2019.72, 0.24],
  [2019.74, 0.01], [2019.79, 0.52], [2019.83, 1.24], [2019.85, 1.15], [2019.87, 1.66], [2019.88, 1.48],
];

const readings2019to2024: Reading[] = [
  [2019.9, 1.46], [2019.92, 2.07], [2019.95, 2.47], [2019.96, 2.4], [2019.98, 3.06], [2020.0, 2.9],
  [2020.02, 3.06], [2020.05, 3.28], [2020.06, 3.03], [2020.09, 2.74], [2020.12, 2.91], [2020.15, 2.74],
  [2020.17, 1.7], [2020.2, 1.15], [2020.23, 0.61], [2020.25, 0.86], [2020.28, 0.69], [2020.32, 1.15],
  [2020.36, 1.63], [2020.39, 1.75], [2020.42, 1.47], [2020.45, 1.66], [2020.47, 1.56], [2020.49, 1.7],
  [2020.51, 1.63], [2020.53, 1.74], [2020.56, 1.72], [2020.59, 2.09], [2020.61, 2.03], [2020.64, 2.23],
  [2020.67, 2.38], [2020.71, 1.83], [2020.74, 1.7], [2020.76, 1.77], [2020.79, 1.84], [2020.82, 1.53],
  [2020.84, 1.34], [2020.87, 1.48], [2020.89, 1.55], [2020.91, 1.41], [2020.94, 1.5], [2020.96, 1.39],
  [2020.99, 1.47], [2021.02, 1.24], [2021.05, 1.22], [2021.08, 1.49], [2021.11, 1.52], [2021.13, 1.45],
  [2021.16, 1.92], [2021.17, 1.66], [2021.2, 2.18], [2021.23, 2.14], [2021.26, 1.74], [2021.27, 2.09],
  [2021.3, 2.08], [2021.33, 1.61], [2021.37, 1.39], [2021.4, 1.19], [2021.43, 1.29], [2021.45, 1.13],
  [2021.47, 1.29], [2021.49, 1.18], [2021.53, 1.56], [2021.56, 1.1], [2021.61, 0.65], [2021.65, 0.48],
  [2021.69, 1.51], [2021.72, 1.13], [2021.75, 0.69], [2021.78, 0.94], [2021.8, 1.4], [2021.83, 1.07],
  [2021.86, 1.11], [2021.88, 1.2], [2021.91, 1.34], [2021.92, 1.12], [2021.95, 1.41], [2021.98, 1.13],
  [2022.0, 1.18], [2022.02, 1.55], [2022.04, 1.15], [2022.08, 0.79], [2022.1, 1.11], [2022.13, 1.57],
  [2022.16, 1.41], [2022.2, 1.07], [2022.23, 1.45], [2022.27, 1.29], [2022.3, 0.99], [2022.32, 1.11],
  [2022.35, 1.21], [2022.36, 0.58], [2022.39, 0.8], [2022.4, 0.49], [2022.43, 0.69], [2022.45, 0.34],
  [2022.5, -0.09], [2022.53, 0.18], [2022.56, 0.19], [2022.58, 0.49], [2022.62, 0.67], [2022.64, 0.45],
  [2022.67, 0.31], [2022.7, 0.49], [2022.72, 0.32], [2022.75, 0.34], [2022.78, -0.05], [2022.8, -0.02],
  [2022.83, 0.32], [2022.86, -0.35], [2022.89, -0.04], [2022.92, -0.51], [2022.94, -0.29], [2022.98, -0.62],
  [2023.01, -0.73], [2023.03, -0.73], [2023.06, -0.3], [2023.09, -0.3], [2023.12, 0.0], [2023.16, -0.13],
  [2023.18, 0.06], [2023.21, -0.25], [2023.23, -0.05], [2023.26, -0.06], [2023.3, 0.34], [2023.33, 0.16],
  [2023.35, 0.89], [2023.38, 0.61], [2023.41, 0.82], [2023.44, 1.23], [2023.47, 1.18], [2023.49, 1.18],
  [2023.53, 0.82], [2023.56, 0.82], [2023.6, 0.24], [2023.63, 0.45], [2023.66, 0.7], [2023.69, 0.96],
  [2023.7, 0.61], [2023.73, 1.09], [2023.76, 0.82], [2023.78, 0.88], [2023.81, 0.66], [2023.83, 1.05],
  [2023.86, 0.72], [2023.88, 1.04], [2023.91, 1.44], [2023.94, 1.92], [2023.96, 2.33], [2023.99, 2.34],
  [2024.02, 1.92], [2024.05, 1.29], [2024.07, 1.5], [2024.1, 1.05], [2024.13, 1.36], [2024.16, 1.0],
  [2024.18, 0.61], [2024.21, 0.6], [2024.23, 0.3], [2024.25, 0.46], [2024.27, 0.19], [2024.29, 0.49],
  [2024.32, -0.09], [2024.36, 0.21], [2024.39, 0.51], [2024.42, 0.3], [2024.45, 0.31], [2024.46, 0.78],
  [2024.48, 0.72], [2024.49, 0.51], [2024.5, 0.72],
];

const xTickYears = [1985, 1990, 1995, 2000, 2005, 2010, 2015, 2020];
const yTickValues = [-2, -1, 0, 1, 2, 3];
const yDomain: [number, number] = [-2.43, 3.74];

const LINE = "#00bfad";
const AREA = "rgba(0, 191, 173, 0.055)";
const TEXT = "#2b3035";

export default function App() {
  const svgRef = useRef<SVGSVGElement>(null);

  useEffect(() => {
    if (!svgRef.current) return;
    document.body.style.margin = "0";

    const W = 3536;
    const H = 2543;
    const margin = { top: 22, right: 25, bottom: 66, left: 79 };
    const innerW = W - margin.left - margin.right;
    const innerH = H - margin.top - margin.bottom;

    const data = [
      ...readings1982to1986, ...readings1986to1990, ...readings1990to1994, ...readings1994to1998,
      ...readings1998to2003, ...readings2003to2007, ...readings2007to2011, ...readings2011to2015,
      ...readings2015to2019, ...readings2019to2024,
    ].sort((a, b) => a[0] - b[0]);

    const svg = d3.select(svgRef.current);
    svg.selectAll("*").remove();
    svg.attr("viewBox", `0 0 ${W} ${H}`);
    svg.append("rect").attr("width", W).attr("height", H).attr("fill", "#ffffff");

    const g = svg.append("g").attr("transform", `translate(${margin.left},${margin.top})`);

    const x = d3.scaleLinear().domain(d3.extent(data, d => d[0]) as [number, number]).range([0, innerW]);
    const y = d3.scaleLinear().domain(yDomain).range([innerH, 0]);

    // vertical gridlines
    g.selectAll("line.vgrid").data(xTickYears).join("line")
      .attr("class", "vgrid")
      .attr("x1", d => x(d)).attr("x2", d => x(d))
      .attr("y1", 0).attr("y2", innerH)
      .attr("stroke", "#edf1f6").attr("stroke-width", 2.5);

    // horizontal gridlines
    g.selectAll("line.hgrid").data(yTickValues).join("line")
      .attr("class", "hgrid")
      .attr("x1", 0).attr("x2", innerW)
      .attr("y1", d => y(d)).attr("y2", d => y(d))
      .attr("stroke", d => (d === 0 ? "#e3eaf1" : "#e9ebee")).attr("stroke-width", 2);

    // area between series and zero
    const area = d3.area<Reading>()
      .x(d => x(d[0]))
      .y0(y(0))
      .y1(d => y(d[1]));
    g.append("path").datum(data).attr("d", area).attr("fill", AREA);

    const line = d3.line<Reading>()
      .x(d => x(d[0]))
      .y(d => y(d[1]));
    g.append("path").datum(data).attr("d", line)
      .attr("fill", "none").attr("stroke", LINE).attr("stroke-width", 5)
      .attr("stroke-linejoin", "miter").attr("stroke-miterlimit", 2);

    // y labels, sitting just above their gridline
    g.selectAll("text.ylab").data(yTickValues).join("text")
      .attr("class", "ylab")
      .attr("x", -6).attr("y", d => y(d) - 14)
      .attr("text-anchor", "end")
      .attr("font-family", "Inter, 'Noto Sans', sans-serif").attr("font-size", 23)
      .attr("fill", TEXT)
      .text(d => `${d < 0 ? "-" : "+"}${Math.abs(d).toFixed(1)}`);

    // x axis
    g.append("line")
      .attr("x1", 0).attr("x2", innerW).attr("y1", innerH).attr("y2", innerH)
      .attr("stroke", "#2f3438").attr("stroke-width", 3);

    g.selectAll("text.xlab").data(xTickYears).join("text")
      .attr("class", "xlab")
      .attr("x", d => x(d)).attr("y", innerH + 43)
      .attr("text-anchor", "middle")
      .attr("font-family", "Inter, 'Noto Sans', sans-serif").attr("font-size", 24)
      .attr("fill", TEXT)
      .text(d => String(d));
  }, []);

  return <svg ref={svgRef} width={3536} height={2543} style={{ display: "block" }} />;
}
